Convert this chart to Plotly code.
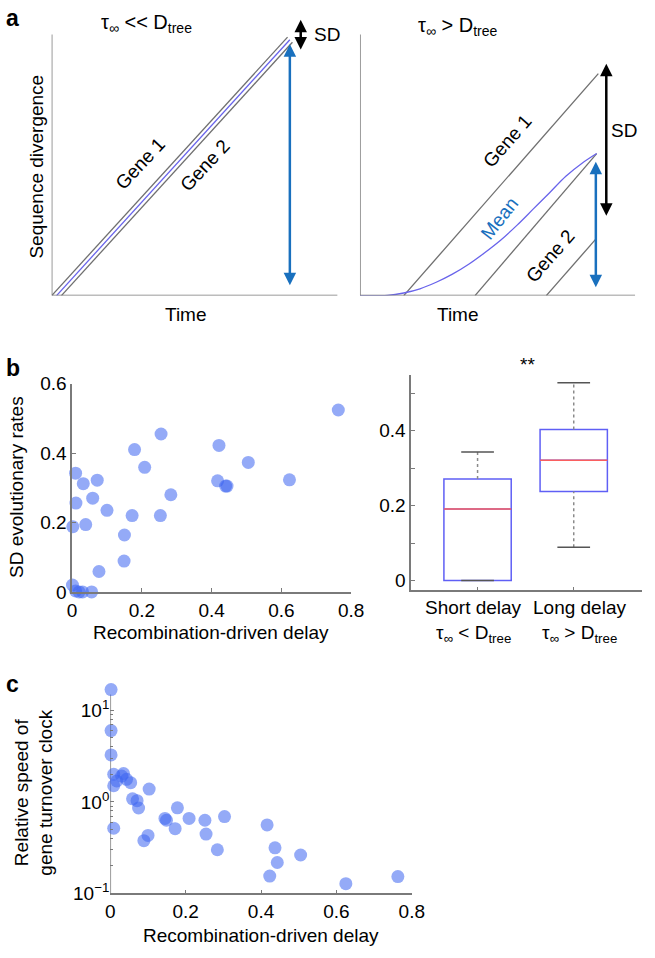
import plotly.graph_objects as go

W, H = 655, 958
FONT = "Liberation Sans, Arial, Helvetica, sans-serif"

# ---------------- Panel a (schematic, arbitrary units) ----------------
a_left_gene1_t = [0.0, 8.25]
a_left_gene1_d = [0.0, 9.9]
a_left_mean_t = [0.17, 8.33]
a_left_mean_d = [0.0, 9.8]
a_left_gene2_t = [0.34, 8.42]
a_left_gene2_d = [0.0, 9.7]

a_right_gene1_t = [1.59, 8.66]
a_right_gene1_d = [0.0, 8.5]
a_right_gene2a_t = [4.18, 8.6]
a_right_gene2a_d = [0.0, 5.44]
a_right_gene2b_t = [6.77, 8.6]
a_right_gene2b_d = [0.0, 2.2]
a_right_mean_t = [0.0, 1.0, 1.59, 2.18, 2.77, 3.36, 3.95, 4.53, 5.12, 5.71, 6.30, 6.89, 7.48, 8.07, 8.6]
a_right_mean_d = [0.0, 0.01, 0.1, 0.26, 0.51, 0.82, 1.2, 1.64, 2.13, 2.70, 3.32, 3.94, 4.57, 5.07, 5.44]

# ---------------- Panel b scatter ----------------
b_delay = [0.010, 0.011, 0.002, 0.032, 0.039, 0.072, 0.059, 0.100, 0.077, 0.001,
           0.010, 0.020, 0.030, 0.056, 0.150, 0.149, 0.172, 0.179, 0.208, 0.255,
           0.253, 0.283, 0.421, 0.417, 0.440, 0.444, 0.505, 0.623, 0.763]
b_sd = [0.342, 0.256, 0.188, 0.312, 0.194, 0.322, 0.270, 0.235, 0.059, 0.020,
        0.003, 0.000, 0.000, 0.000, 0.164, 0.089, 0.220, 0.410, 0.359, 0.455,
        0.220, 0.280, 0.422, 0.320, 0.305, 0.305, 0.373, 0.323, 0.524]
b_x_ticks = [0, 0.2, 0.4, 0.6, 0.8]
b_x_ticktext = ["0", "0.2", "0.4", "0.6", "0.8"]
b_y_ticks = [0, 0.2, 0.4, 0.6]
b_y_ticktext = ["0", "0.2", "0.4", "0.6"]

# ---------------- Panel b box plot ----------------
box_pos = [1, 2]
box_label_line1 = ["Short delay", "Long delay"]
box_label_line2 = ["τ<sub>∞</sub> &lt; D<sub>tree</sub>", "τ<sub>∞</sub> &gt; D<sub>tree</sub>"]
box_q1 = [0.0, 0.2375]
box_median = [0.191, 0.321]
box_q3 = [0.271, 0.403]
box_low = [0.0, 0.089]
box_high = [0.343, 0.528]
box_y_ticks = [0, 0.2, 0.4]
box_y_ticktext = ["0", "0.2", "0.4"]
box_y_minor = [0.1, 0.3, 0.5]

# ---------------- Panel c ----------------
c_delay = [0.002, 0.002, 0.002, 0.009, 0.009, 0.017, 0.030, 0.035, 0.043, 0.054,
           0.059, 0.071, 0.075, 0.103, 0.009, 0.089, 0.100, 0.145, 0.149, 0.178,
           0.172, 0.209, 0.251, 0.254, 0.284, 0.303, 0.416, 0.437, 0.443, 0.423,
           0.505, 0.625, 0.763]
c_speed = [16.8, 6.0, 3.25, 2.0, 1.5, 1.69, 1.91, 2.04, 1.76, 1.62,
           1.08, 1.03, 0.857, 1.38, 0.515, 0.377, 0.43, 0.66, 0.63, 0.86,
           0.51, 0.66, 0.63, 0.445, 0.30, 0.69, 0.56, 0.315, 0.218, 0.155,
           0.263, 0.128, 0.153]
c_x_ticks = [0, 0.2, 0.4, 0.6, 0.8]
c_x_ticktext = ["0", "0.2", "0.4", "0.6", "0.8"]
c_y_ticks = [0.1, 1, 10]
c_y_ticktext = ["10<sup>−1</sup>", "10<sup>0</sup>", "10<sup>1</sup>"]
c_y_minor = [0.2, 0.3, 0.4, 0.5, 0.6, 0.7, 0.8, 0.9, 2, 3, 4, 5, 6, 7, 8, 9]
c_y_axis_span = [0.1, 14.8]  # where the drawn y-axis line starts and stops

# ---------------- styles ----------------
GRAY = "#6f6f6f"
AX = "#7a7a7a"
MEAN_BLUE = "rgb(105,100,235)"
ARROW_BLUE = "rgb(25,112,190)"
DOT = "rgba(60,100,240,0.55)"


def px(x):
    return x / W


def py(y):
    return 1 - y / H


fig = go.Figure()

# panel a left
for t, d, c in [(a_left_gene1_t, a_left_gene1_d, GRAY),
                (a_left_gene2_t, a_left_gene2_d, GRAY),
                (a_left_mean_t, a_left_mean_d, MEAN_BLUE)]:
    fig.add_trace(go.Scatter(x=t, y=d, mode="lines", line=dict(color=c, width=1.3),
                             xaxis="x", yaxis="y", hoverinfo="skip", showlegend=False))
# panel a right
for t, d, c in [(a_right_gene1_t, a_right_gene1_d, GRAY),
                (a_right_gene2a_t, a_right_gene2a_d, GRAY),
                (a_right_gene2b_t, a_right_gene2b_d, GRAY),
                (a_right_mean_t, a_right_mean_d, MEAN_BLUE)]:
    fig.add_trace(go.Scatter(x=t, y=d, mode="lines", line=dict(color=c, width=1.3, shape="spline"),
                             xaxis="x2", yaxis="y2", hoverinfo="skip", showlegend=False))

# panel b scatter
fig.add_trace(go.Scatter(x=b_delay, y=b_sd, mode="markers",
                         marker=dict(size=13, color=DOT, line=dict(width=0)),
                         xaxis="x3", yaxis="y3", cliponaxis=False, showlegend=False))

# panel b box plot
fig.add_trace(go.Box(x=box_pos, q1=box_q1, median=box_median, q3=box_q3,
                     lowerfence=box_q1, upperfence=box_q3, width=0.7, whiskerwidth=0,
                     line=dict(color="rgb(95,95,245)", width=1.5),
                     fillcolor="rgba(0,0,0,0)", xaxis="x4", yaxis="y4",
                     boxpoints=False, showlegend=False))
wx, wy = [], []
for p, lo, q1, q3, hi in zip(box_pos, box_low, box_q1, box_q3, box_high):
    wx += [p, p, None, p, p, None]
    wy += [q3, hi, None, lo, q1, None]
fig.add_trace(go.Scatter(x=wx, y=wy, mode="lines", line=dict(color="#8a8a8a", width=1.5, dash="dot"),
                         xaxis="x4", yaxis="y4", showlegend=False, hoverinfo="skip"))
cx, cy = [], []
for p, lo, hi in zip(box_pos, box_low, box_high):
    cx += [p - 0.17, p + 0.17, None, p - 0.17, p + 0.17, None]
    cy += [hi, hi, None, lo, lo, None]
fig.add_trace(go.Scatter(x=cx, y=cy, mode="lines", line=dict(color="#555555", width=1.5),
                         xaxis="x4", yaxis="y4", showlegend=False, hoverinfo="skip"))
mx, my = [], []
for p, m in zip(box_pos, box_median):
    mx += [p - 0.35, p + 0.35, None]
    my += [m, m, None]
fig.add_trace(go.Scatter(x=mx, y=my, mode="lines", line=dict(color="rgb(250,95,95)", width=1.5),
                         xaxis="x4", yaxis="y4", showlegend=False, hoverinfo="skip"))

# panel c: y-axis line (stops below the highest point, as in the original)
fig.add_trace(go.Scatter(x=[0, 0], y=c_y_axis_span, mode="lines", line=dict(color=AX, width=1.5),
                         xaxis="x5", yaxis="y5", cliponaxis=False, showlegend=False, hoverinfo="skip"))
fig.add_trace(go.Scatter(x=c_delay, y=c_speed, mode="markers",
                         marker=dict(size=13, color=DOT, line=dict(width=0)),
                         xaxis="x5", yaxis="y5", cliponaxis=False, showlegend=False))

tickfont = dict(size=19, color="black", family=FONT)
ax_style = dict(showline=True, linecolor=AX, linewidth=1.5, ticks="inside", ticklen=4,
                tickcolor=AX, tickwidth=1.2, showgrid=False, zeroline=False, tickfont=tickfont)

hidden = dict(visible=False, showgrid=False, zeroline=False)

c_style = dict(ax_style)
c_style["showline"] = False

fig.update_layout(
    width=W, height=H, autosize=False,
    margin=dict(l=0, r=0, t=0, b=0),
    paper_bgcolor="white", plot_bgcolor="rgba(0,0,0,0)",
    font=dict(family=FONT, size=19, color="black"),
    xaxis=dict(domain=[px(48), px(342)], range=[0, 10], anchor="y", **hidden),
    yaxis=dict(domain=[py(292), py(5)], range=[0, 10.75], anchor="x", **hidden),
    xaxis2=dict(domain=[px(365), px(648)], range=[0, 10], anchor="y2", **hidden),
    yaxis2=dict(domain=[py(292), py(5)], range=[0, 10.75], anchor="x2", **hidden),
    xaxis3=dict(domain=[px(69), px(356)], range=[0, 0.8], anchor="y3",
                tickvals=b_x_ticks, ticktext=b_x_ticktext, **ax_style),
    yaxis3=dict(domain=[py(595), py(382)], range=[0, 0.6], anchor="x3",
                tickvals=b_y_ticks, ticktext=b_y_ticktext, **ax_style),
    xaxis4=dict(domain=[px(417.7), 1.0], range=[0.31, 2.71], anchor="y4",
                tickvals=box_pos, showticklabels=False, **ax_style),
    yaxis4=dict(domain=[py(593.3), py(372.7)], range=[-0.026, 0.55], anchor="x4",
                tickvals=box_y_ticks, ticktext=box_y_ticktext,
                minor=dict(tickvals=box_y_minor, ticks="inside", ticklen=4, tickcolor=AX),
                **ax_style),
    xaxis5=dict(domain=[px(108.3), px(418.3)], range=[0, 0.8], anchor="y5",
                tickvals=c_x_ticks, ticktext=c_x_ticktext, **ax_style),
    yaxis5=dict(domain=[py(903.3), py(685)], range=[-1, 1.33], type="log", anchor="x5",
                tickvals=c_y_ticks, ticktext=c_y_ticktext,
                minor=dict(tickvals=c_y_minor, ticks="inside", ticklen=2.5, tickcolor=AX),
                **c_style),
)

# schematic axis lines
for xr, yr in [("x", "y"), ("x2", "y2")]:
    fig.add_shape(type="line", xref=xr, yref=yr, x0=0, y0=0, x1=10, y1=0,
                  line=dict(color=AX, width=1.5))
    fig.add_shape(type="line", xref=xr, yref=yr, x0=0, y0=0, x1=0, y1=10,
                  line=dict(color=AX, width=1.5))

ann = []


def arrow(xr, yr, x, y0, y1, color):
    ann.append(dict(xref=xr, yref=yr, axref=xr, ayref=yr, x=x, y=y1, ax=x, ay=y0,
                    text="", showarrow=True, arrowhead=2, arrowside="end+start",
                    arrowsize=1.0, arrowwidth=2.5, arrowcolor=color,
                    standoff=0, startstandoff=0))


arrow("x", "y", a_left_mean_t[1], 0.34, 9.63, ARROW_BLUE)
arrow("x", "y", 8.71, 9.37, 10.56, "black")
arrow("x2", "y2", 8.57, 0.26, 5.13, ARROW_BLUE)
arrow("x2", "y2", 8.95, 3.0, 8.88, "black")


def txt(text, x, y, xref="paper", yref="paper", size=19, angle=0, color="black", **kw):
    ann.append(dict(text=text, x=x, y=y, xref=xref, yref=yref, showarrow=False,
                    textangle=angle, font=dict(size=size, color=color, family=FONT),
                    xanchor="center", yanchor="middle", **kw))


# panel letters
txt("<b>a</b>", px(8), py(8), size=23)
txt("<b>b</b>", px(8), py(366), size=23)
txt("<b>c</b>", px(8), py(689), size=23)

# panel a texts
txt("τ<sub>∞</sub> &lt;&lt; D<sub>tree</sub>", px(146), py(14), size=20)
txt("τ<sub>∞</sub> &gt; D<sub>tree</sub>", px(465), py(17), size=20)
txt("Sequence divergence", px(32), py(160), angle=-90)
txt("Time", px(186), py(311))
txt("Time", px(466), py(311))
txt("Gene 1", 3.1, 5.06, xref="x", yref="y", angle=-47)
txt("Gene 2", 5.36, 4.98, xref="x", yref="y", angle=-47)
txt("SD", px(331), py(25))
txt("Gene 1", 5.33, 5.92, xref="x2", yref="y2", angle=-49)
txt("Mean", 5.07, 2.95, xref="x2", yref="y2", angle=-52, color=ARROW_BLUE)
txt("Gene 2", 6.89, 1.51, xref="x2", yref="y2", angle=-49)
txt("SD", px(637), py(123))

# panel b texts
txt("SD evolutionary rates", px(12), py(488), angle=-90)
txt("Recombination-driven delay", px(212), py(636))
txt("**", px(537), py(362))
for cxp, l1, l2 in zip([482, 591], box_label_line1, box_label_line2):
    txt(l1, px(cxp), py(611))
    txt(l2, px(cxp), py(638))

# panel c texts
txt("Relative speed of<br>gene turnover clock", px(30), py(800), angle=-90)
txt("Recombination-driven delay", px(263), py(946))

fig.update_layout(annotations=ann)

fig.write_html("out.html", config={"displayModeBar": False},
               post_script="document.body.style.margin='0px';")
